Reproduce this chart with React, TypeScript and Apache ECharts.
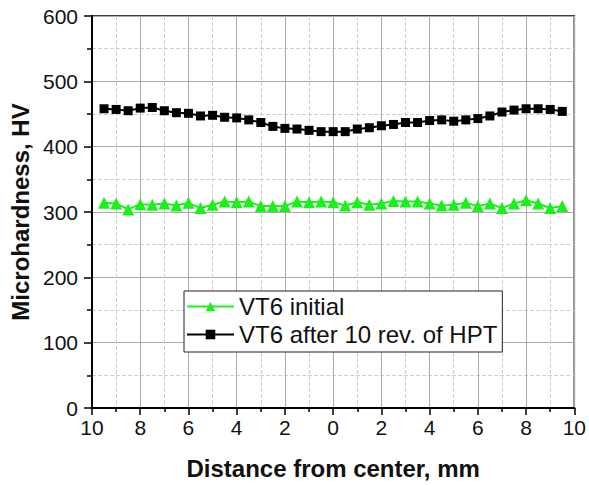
import React, { useEffect, useRef } from "react";
import * as echarts from "echarts";

const positions = [
  -9.5, -9, -8.5, -8, -7.5, -7, -6.5, -6, -5.5, -5, -4.5, -4, -3.5, -3, -2.5, -2, -1.5, -1, -0.5, 0,
  0.5, 1, 1.5, 2, 2.5, 3, 3.5, 4, 4.5, 5, 5.5, 6, 6.5, 7, 7.5, 8, 8.5, 9, 9.5,
];

const vt6Initial = [
  314, 313, 304, 312, 311, 313, 310, 314, 306, 311, 316, 315, 316, 309, 309, 309, 316, 315, 316, 315,
  310, 315, 311, 313, 317, 316, 316, 313, 310, 311, 314, 309, 313, 306, 313, 318, 313, 306, 309,
];

const vt6Hpt = [
  458, 457, 455, 459, 460, 455, 452, 451, 447, 448, 445, 444, 441, 437, 431, 428, 427, 425, 423, 423,
  423, 427, 429, 432, 434, 437, 437, 440, 441, 439, 441, 443, 447, 453, 456, 458, 458, 457, 454,
];

const seriesNames = ["VT6 initial", "VT6 after 10 rev. of HPT"];
const xTitle = "Distance from center, mm";
const yTitle = "Microhardness, HV";

export default function App() {
  const ref = useRef<HTMLDivElement>(null);
  useEffect(() => {
    document.body.style.margin = "0";
    if (!ref.current) return;
    const chart = echarts.init(ref.current, undefined, { renderer: "svg" });
    const font = "Arial, 'Liberation Sans', sans-serif";
    chart.setOption({
      animation: false,
      backgroundColor: "#fff",
      textStyle: { fontFamily: font },
      grid: {
        left: 92,
        right: 12,
        top: 16,
        bottom: 77,
        show: true,
        borderColor: "#000",
        borderWidth: 1.5,
        backgroundColor: "transparent",
      },
      legend: {
        show: true,
        orient: "vertical",
        left: 184,
        top: 291,
        itemWidth: 47,
        itemHeight: 12,
        itemGap: 3,
        padding: [3, 5, 5, 2],
        backgroundColor: "#fff",
        borderColor: "#222",
        borderWidth: 1,
        borderRadius: 0,
        textStyle: { fontSize: 24, lineHeight: 25, color: "#111", fontFamily: font },
        data: [{ name: seriesNames[0] }, { name: seriesNames[1] }],
      },
      xAxis: {
        type: "value",
        min: -10,
        max: 10,
        interval: 2,
        name: xTitle,
        nameLocation: "middle",
        nameGap: 48,
        nameTextStyle: { fontSize: 24, fontWeight: "bold", color: "#111", fontFamily: font },
        axisLine: { onZero: false, lineStyle: { color: "#000", width: 2 } },
        axisTick: { show: true, inside: false, length: 7, lineStyle: { color: "#000", width: 1.5 } },
        minorTick: { show: true, splitNumber: 2, length: 4, lineStyle: { color: "#000", width: 1.5 } },
        axisLabel: {
          fontSize: 21,
          color: "#111",
          margin: 9,
          formatter: (v: number) => String(Math.abs(v)),
        },
        splitLine: { show: true, lineStyle: { color: "#aaaaaa", width: 1 } },
        minorSplitLine: { show: true, lineStyle: { color: "#d0d0d0", width: 1, type: "dashed" } },
      },
      yAxis: {
        type: "value",
        min: 0,
        max: 600,
        interval: 100,
        name: yTitle,
        nameLocation: "middle",
        nameGap: 52,
        nameTextStyle: { fontSize: 24, fontWeight: "bold", color: "#111", fontFamily: font },
        axisLine: { show: true, onZero: false, lineStyle: { color: "#000", width: 2 } },
        axisTick: { show: true, inside: false, length: 8, lineStyle: { color: "#000", width: 1.5 } },
        minorTick: { show: true, splitNumber: 2, length: 5, lineStyle: { color: "#000", width: 1.5 } },
        axisLabel: { fontSize: 21, color: "#111", margin: 14 },
        splitLine: { show: true, lineStyle: { color: "#aaaaaa", width: 1 } },
        minorSplitLine: { show: true, lineStyle: { color: "#d0d0d0", width: 1, type: "dashed" } },
      },
      series: [
        {
          name: seriesNames[0],
          type: "line",
          data: positions.map((x, i) => [x, vt6Initial[i]]),
          symbol: "triangle",
          symbolSize: 12,
          itemStyle: { color: "#1cf01c" },
          lineStyle: { color: "#1cf01c", width: 2 },
          z: 3,
        },
        {
          name: seriesNames[1],
          type: "line",
          data: positions.map((x, i) => [x, vt6Hpt[i]]),
          symbol: "rect",
          symbolSize: 9,
          itemStyle: { color: "#000" },
          lineStyle: { color: "#000", width: 2 },
          z: 3,
        },
      ],
    });
    return () => chart.dispose();
  }, []);
  return <div ref={ref} style={{ width: 589, height: 485 }} />;
}
